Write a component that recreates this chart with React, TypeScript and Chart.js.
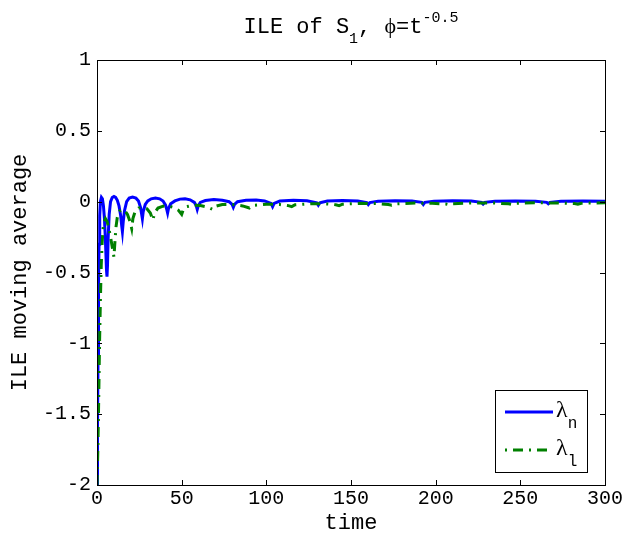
import React, { useEffect, useRef } from "react";
import { Chart, registerables } from "chart.js";
Chart.register(...registerables);

// λn series (time, value)
const blueT = [0, 0.3, 0.6, 0.9, 1.2, 1.6, 2.0, 2.6, 3.2, 3.8, 4.4, 5.0, 5.6, 5.9, 6.2, 6.6, 7.2, 8, 9, 10, 11, 12, 13, 14, 14.6, 15, 15.5, 16.3, 17.5, 19, 21, 23, 24.5, 25.7, 26.4, 26.8, 27.3, 28.5, 30, 32, 34.5, 37, 39, 40.5, 41.3, 41.7, 42.2, 43.5, 46, 49, 52, 55, 57.5, 58.6, 59.2, 59.8, 61, 64, 69, 74, 78, 79.8, 80.5, 81.2, 83, 88, 94, 99, 102.8, 103.7, 104.6, 108, 116, 124, 129.8, 130.7, 131.6, 136, 145, 154, 159.3, 160.2, 161.1, 166, 176, 186, 191.8, 192.7, 193.6, 199, 210, 221, 227.1, 228, 228.9, 235, 247, 259, 265.6, 266.5, 267.4, 274, 287, 300];
const blueV = [-2, -1.6, -1.1, -0.6, -0.3, -0.1, 0.0, 0.03, 0.02, -0.03, -0.12, -0.28, -0.48, -0.53, -0.45, -0.25, -0.09, 0.0, 0.03, 0.037, 0.03, 0.01, -0.03, -0.1, -0.17, -0.21, -0.14, -0.06, 0.0, 0.025, 0.032, 0.025, 0.005, -0.04, -0.09, -0.12, -0.07, -0.02, 0.005, 0.02, 0.026, 0.02, 0.005, -0.025, -0.06, -0.08, -0.05, -0.015, 0.005, 0.018, 0.02, 0.013, -0.005, -0.03, -0.055, -0.03, -0.005, 0.008, 0.015, 0.01, 0.0, -0.02, -0.04, -0.02, 0.0, 0.01, 0.012, 0.005, -0.012, -0.035, -0.012, 0.004, 0.01, 0.006, -0.008, -0.025, -0.008, 0.004, 0.008, 0.005, -0.006, -0.02, -0.006, 0.003, 0.007, 0.004, -0.005, -0.02, -0.005, 0.003, 0.006, 0.004, -0.005, -0.017, -0.005, 0.003, 0.005, 0.003, -0.005, -0.015, -0.005, 0.003, 0.005, 0.003];

// λl series (time, value)
const greenT = [0, 0.5, 1, 1.5, 2, 2.5, 3, 3.5, 4, 5, 6, 7, 8, 9, 10, 10.5, 11.2, 12, 13.5, 15, 16.5, 18, 19.5, 20.5, 21.2, 22.5, 24.5, 27, 29.5, 31.5, 33, 34, 36, 39, 42, 45, 48, 50, 51, 53, 57, 61, 65, 68.5, 70, 74, 80, 86, 90, 92, 100, 108, 113, 115, 117, 127, 136, 141, 143, 145, 155, 165, 172, 174, 176, 188, 198, 206, 208, 210, 222, 235, 243, 245, 247, 260, 272, 282, 284, 286, 300];
const greenV = [-2, -1.75, -1.4, -1.0, -0.7, -0.45, -0.3, -0.2, -0.15, -0.12, -0.14, -0.19, -0.25, -0.32, -0.39, -0.3, -0.18, -0.11, -0.065, -0.055, -0.065, -0.09, -0.14, -0.19, -0.12, -0.07, -0.045, -0.04, -0.05, -0.08, -0.13, -0.08, -0.045, -0.032, -0.03, -0.04, -0.06, -0.09, -0.055, -0.035, -0.025, -0.027, -0.037, -0.055, -0.033, -0.02, -0.02, -0.03, -0.045, -0.026, -0.018, -0.02, -0.028, -0.035, -0.022, -0.014, -0.016, -0.022, -0.028, -0.018, -0.012, -0.013, -0.02, -0.025, -0.016, -0.01, -0.011, -0.017, -0.022, -0.014, -0.009, -0.01, -0.015, -0.02, -0.012, -0.008, -0.009, -0.013, -0.018, -0.011, -0.008];

const xMin = 0, xMax = 300, xStep = 50;
const yMin = -2, yMax = 1, yStep = 0.5;

const MONO = "'Courier New', 'Liberation Mono', 'DejaVu Sans Mono', monospace";
const SERIF = "'Liberation Serif', 'DejaVu Serif', serif";

const framePlugin = {
  id: "frame",
  afterDraw(chart: any) {
    const { ctx, chartArea: a, scales } = chart;
    ctx.save();
    ctx.strokeStyle = "#000";
    ctx.lineWidth = 1;
    ctx.strokeRect(Math.round(a.left) + 0.5, Math.round(a.top) + 0.5, Math.round(a.right - a.left), Math.round(a.bottom - a.top));
    const tl = 5;
    ctx.beginPath();
    scales.x.ticks.forEach((t: any) => {
      const px = Math.round(scales.x.getPixelForValue(t.value)) + 0.5;
      ctx.moveTo(px, a.bottom); ctx.lineTo(px, a.bottom - tl);
      ctx.moveTo(px, a.top); ctx.lineTo(px, a.top + tl);
    });
    scales.y.ticks.forEach((t: any) => {
      const py = Math.round(scales.y.getPixelForValue(t.value)) + 0.5;
      ctx.moveTo(a.left, py); ctx.lineTo(a.left + tl, py);
      ctx.moveTo(a.right, py); ctx.lineTo(a.right - tl, py);
    });
    ctx.stroke();

    // title with sub/superscripts
    const parts = [
      { t: "ILE of S", f: `22px ${MONO}`, dy: 0 },
      { t: "1", f: `15px ${MONO}`, dy: 10 },
      { t: ", ", f: `22px ${MONO}`, dy: 0 },
      { t: "ϕ", f: `22px ${SERIF}`, dy: 0 },
      { t: "=t", f: `22px ${MONO}`, dy: 0 },
      { t: "-0.5", f: `15px ${MONO}`, dy: -11 },
    ];
    let total = 0;
    const widths = parts.map((p) => { ctx.font = p.f; const w = ctx.measureText(p.t).width; total += w; return w; });
    let x = (a.left + a.right) / 2 - total / 2;
    const base = 33;
    ctx.fillStyle = "#000";
    ctx.textBaseline = "alphabetic";
    ctx.textAlign = "left";
    parts.forEach((p, i) => { ctx.font = p.f; ctx.fillText(p.t, x, base + p.dy); x += widths[i]; });

    // legend
    const lx = 495.5, ly = 390.5, lw = 92, lh = 82;
    ctx.fillStyle = "#fff";
    ctx.fillRect(lx, ly, lw, lh);
    ctx.strokeStyle = "#000";
    ctx.lineWidth = 1;
    ctx.strokeRect(lx, ly, lw, lh);
    const items = [
      { c: "#0000ff", dash: [] as number[], y: 412, sub: "n" },
      { c: "#008000", dash: [2, 6, 10, 6], y: 450, sub: "l" },
    ];
    items.forEach((it) => {
      ctx.strokeStyle = it.c;
      ctx.lineWidth = 3;
      ctx.setLineDash(it.dash);
      ctx.beginPath(); ctx.moveTo(505, it.y); ctx.lineTo(553, it.y); ctx.stroke();
      ctx.setLineDash([]);
      ctx.fillStyle = "#000";
      ctx.font = `24px ${SERIF}`;
      ctx.fillText("λ", 556, it.y + 5);
      const wl = ctx.measureText("λ").width;
      ctx.font = `16px ${MONO}`;
      ctx.fillText(it.sub, 556 + wl, it.y + 16);
    });
    ctx.restore();
  },
};

export default function App() {
  const ref = useRef<HTMLCanvasElement>(null);
  useEffect(() => {
    const canvas = ref.current!;
    const chart = new Chart(canvas, {
      type: "line",
      data: {
        datasets: [
          {
            label: "λl",
            data: greenT.map((t, i) => ({ x: t, y: greenV[i] })),
            borderColor: "#008000",
            borderWidth: 3,
            borderDash: [10, 6, 2, 6],
            pointRadius: 0,
            tension: 0,
            fill: false,
            order: 0,
          },
          {
            label: "λn",
            data: blueT.map((t, i) => ({ x: t, y: blueV[i] })),
            borderColor: "#0000ff",
            borderWidth: 3,
            pointRadius: 0,
            tension: 0,
            fill: false,
            order: 1,
          },
        ],
      },
      options: {
        responsive: false,
        animation: false,
        devicePixelRatio: 1,
        layout: { padding: { left: 0, top: 60, right: 24, bottom: 0 } },
        plugins: { legend: { display: false }, title: { display: false }, tooltip: { enabled: false } },
        scales: {
          x: {
            type: "linear",
            min: xMin,
            max: xMax,
            grid: { display: false, drawTicks: false },
            border: { display: false },
            ticks: { stepSize: xStep, color: "#000", font: { family: MONO, size: 20 }, padding: 2, maxRotation: 0, callback: (v: any) => String(v) },
            title: { display: true, text: "time", color: "#000", font: { family: MONO, size: 22, lineHeight: 1 }, padding: { top: 0, bottom: 1 } },
            afterFit: (s: any) => { s.height = 50; },
          },
          y: {
            type: "linear",
            min: yMin,
            max: yMax,
            grid: { display: false, drawTicks: false },
            border: { display: false },
            ticks: { stepSize: yStep, color: "#000", font: { family: MONO, size: 20 }, padding: 6, callback: (v: any) => String(v) },
            title: { display: true, text: "ILE moving average", color: "#000", font: { family: MONO, size: 22, lineHeight: 1 }, padding: { top: 9, bottom: 0 } },
            afterFit: (s: any) => { s.width = 97; },
          },
        },
      },
      plugins: [framePlugin],
    } as any);
    return () => chart.destroy();
  }, []);
  return (
    <div style={{ position: "fixed", left: 0, top: 0, width: 629, height: 535, background: "#fff" }}>
      <canvas ref={ref} width={629} height={535} style={{ width: 629, height: 535, display: "block" }} />
    </div>
  );
}
